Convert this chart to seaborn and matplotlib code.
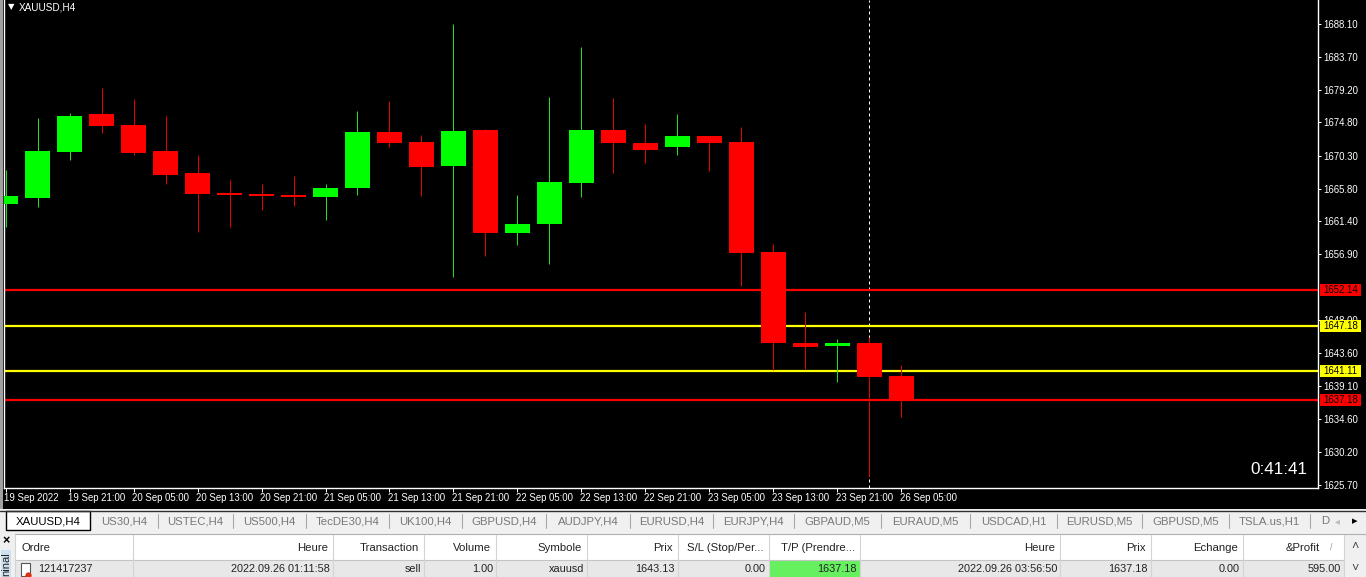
import numpy as np
import pandas as pd
import seaborn as sns
import matplotlib.pyplot as plt
from matplotlib.patches import Rectangle
from matplotlib.transforms import ScaledTranslation

# candle data
opens = [1663.74, 1664.55, 1670.78, 1675.92, 1674.43, 1670.91, 1667.93, 1665.23, 1665.09, 1664.95,
         1664.68, 1665.90, 1673.48, 1672.13, 1668.88, 1673.75, 1659.81, 1661.03, 1666.58, 1673.75,
         1671.99, 1671.45, 1672.94, 1672.13, 1657.24, 1644.92, 1644.52, 1644.92, 1640.45]
closes = [1664.82, 1670.91, 1675.65, 1674.29, 1670.64, 1667.66, 1665.09, 1664.95, 1664.82, 1664.68,
          1665.90, 1673.48, 1671.99, 1668.74, 1673.62, 1659.81, 1661.03, 1666.71, 1673.75, 1671.99,
          1671.05, 1672.94, 1671.99, 1657.10, 1644.92, 1644.38, 1644.92, 1640.32, 1637.21]
highs = [1668.34, 1675.38, 1676.05, 1679.44, 1677.95, 1675.65, 1670.37, 1666.99, 1666.44, 1667.53,
         1666.44, 1676.32, 1677.68, 1673.08, 1688.10, 1673.89, 1664.95, 1678.22, 1684.99, 1678.08,
         1674.57, 1675.92, 1672.94, 1674.16, 1658.32, 1649.12, 1645.46, 1645.73, 1641.94]
lows = [1660.62, 1663.33, 1669.69, 1673.35, 1670.37, 1666.44, 1659.95, 1660.62, 1662.92, 1663.47,
        1661.57, 1664.95, 1671.45, 1664.82, 1653.86, 1656.70, 1658.19, 1655.61, 1664.68, 1667.93,
        1669.29, 1670.37, 1668.20, 1652.64, 1641.27, 1641.40, 1639.64, 1626.78, 1634.90]

x_ticks = list(range(0, 29, 2))
x_labels = ['19 Sep 2022', '19 Sep 21:00', '20 Sep 05:00', '20 Sep 13:00', '20 Sep 21:00',
            '21 Sep 05:00', '21 Sep 13:00', '21 Sep 21:00', '22 Sep 05:00', '22 Sep 13:00',
            '22 Sep 21:00', '23 Sep 05:00', '23 Sep 13:00', '23 Sep 21:00', '26 Sep 05:00']
y_ticks = [1688.10, 1683.70, 1679.20, 1674.80, 1670.30, 1665.80, 1661.40, 1656.90,
           1648.00, 1643.60, 1639.10, 1634.60, 1630.20, 1625.70]

level_prices = [1652.14, 1647.18, 1641.11, 1637.18]
level_colors = ['#ff0000', '#ffff00', '#ffff00', '#ff0000']

tabs = ['XAUUSD,H4', 'US30,H4', 'USTEC,H4', 'US500,H4', 'TecDE30,H4', 'UK100,H4', 'GBPUSD,H4', 'AUDJPY,H4',
        'EURUSD,H4', 'EURJPY,H4', 'GBPAUD,M5', 'EURAUD,M5', 'USDCAD,H1', 'EURUSD,M5', 'GBPUSD,M5', 'TSLA.us,H1', 'D']
tab_edges = [6, 90, 158, 233, 306, 389, 462, 546, 630, 713, 794, 881, 970, 1057, 1142, 1229, 1310, 1341]

columns = ['Ordre', 'Heure', 'Transaction', 'Volume', 'Symbole', 'Prix', 'S/L (Stop/Per...', 'T/P (Prendre...',
           'Heure', 'Prix', 'Echange', '&Profit']
row = ['121417237', '2022.09.26 01:11:58', 'sell', '1.00', 'xauusd', '1643.13', '0.00', '1637.18',
       '2022.09.26 03:56:50', '1637.18', '0.00', '595.00']
col_edges = [15, 133, 333, 424, 496, 587, 678, 769, 860, 1060, 1151, 1243, 1344]

df = pd.DataFrame({'i': range(len(opens)), 'open': opens, 'close': closes, 'high': highs, 'low': lows})
df['bottom'] = df[['open', 'close']].min(axis=1)
df['body'] = (df['open'] - df['close']).abs()
df['up'] = df['close'] > df['open']

sns.set_theme(style='dark')
plt.rcParams['font.family'] = ['Liberation Sans', 'DejaVu Sans']

W, H = 1366, 577
fig = plt.figure(figsize=(W / 100, H / 100), dpi=100, facecolor='black')

# window chrome underneath, in pixel coordinates
bg = fig.add_axes([0, 0, 1, 1], zorder=0)
bg.set_xlim(0, W)
bg.set_ylim(H, 0)
bg.axis('off')
bg.add_patch(Rectangle((0, 0), 3, 509, color='#a0a0a0', lw=0))
bg.add_patch(Rectangle((0, 509), W, 68, color='#f0f0f0', lw=0))
bg.plot([0, W], [511, 511], color='#303030', lw=1)

# tabs
bg.add_patch(Rectangle((tab_edges[0], 511), tab_edges[1] - tab_edges[0], 19, fc='white', ec='black', lw=1))
for k, name in enumerate(tabs):
    mid = (tab_edges[k] + tab_edges[k + 1]) / 2
    bg.text(mid, 521, name, ha='center', va='center', fontsize=8.2, color='black' if k == 0 else '#777777')
    if k > 1:
        bg.plot([tab_edges[k]] * 2, [514, 528], color='#a8a8a8', lw=0.8)
bg.text(1337, 521, '\u25c2', ha='center', va='center', fontsize=7, color='#bbbbbb')
bg.text(1355, 521, '\u25b8', ha='center', va='center', fontsize=8, color='black')

# terminal table
bg.add_patch(Rectangle((15, 535), 1351, 25, color='white', lw=0))
bg.add_patch(Rectangle((15, 560), 1329, 17, color='#e8e8e8', lw=0))
bg.add_patch(Rectangle((1344, 535), 22, 42, color='#f0f0f0', lw=0))
bg.add_patch(Rectangle((col_edges[7], 560), col_edges[8] - col_edges[7], 17, color='#66f060', lw=0))
bg.plot([15, W], [534, 534], color='#b0b0b0', lw=0.8)
bg.plot([15, 1344], [560, 560], color='#c4c4c4', lw=0.8)
for xe in col_edges:
    bg.plot([xe, xe], [535, 577], color='#d4d4d4', lw=0.8)
for k, (c, v) in enumerate(zip(columns, row)):
    if k == 0:
        bg.text(22, 548, c, ha='left', va='center', fontsize=8.2, color='#222222')
        bg.text(38, 569.5, v, ha='left', va='center', fontsize=7.8, color='#222222')
    else:
        right = 1320 if c == '&Profit' else col_edges[k + 1] - 5
        bg.text(right, 548, c, ha='right', va='center', fontsize=8.2, color='#222222')
        bg.text(col_edges[k + 1] - 3, 569.5, v, ha='right', va='center', fontsize=7.8, color='#222222')
bg.text(1331, 548, '/', ha='center', va='center', fontsize=6.5, color='#999999')
bg.add_patch(Rectangle((21, 563), 9, 13, fc='white', ec='#555555', lw=0.8))
bg.plot([28], [574.5], marker='o', ms=4.5, color='#d83010', mew=0)
bg.add_patch(Rectangle((1, 550), 10, 27, color='#cfe0f0', lw=0))
bg.text(6, 541, '\u00d7', ha='center', va='center', fontsize=9, fontweight='bold', color='black')
bg.text(6.5, 576.5, 'ninal', ha='center', va='bottom', rotation=90, fontsize=8, color='#222222')
bg.text(1355, 547, '\u02c4', ha='center', va='center', fontsize=9, color='#444444')
bg.text(1355, 569, '\u02c5', ha='center', va='center', fontsize=9, color='#444444')

# price chart
ax = fig.add_axes([4 / W, 1 - 488 / H, (1318 - 4) / W, 488 / H], zorder=1, facecolor='black')

ax.axvline(27, color='white', lw=0.72, ls=(0, (3, 3)), zorder=1)
for price, col in zip(level_prices, level_colors):
    ax.axhline(price, color=col, lw=1.6, zorder=1.5)

for is_up, col, wick in [(True, '#00ff00', '#20e020'), (False, '#ff0000', '#e60000')]:
    sub = df[df['up'] == is_up]
    ax.vlines(sub['i'], sub['low'], sub['high'], color=wick, lw=0.72, zorder=2, snap=True)
    sns.barplot(data=sub, x='i', y='body', bottom=sub['bottom'].values, native_scale=True, color=col,
                saturation=1, width=0.78, linewidth=0, errorbar=None, ax=ax, zorder=3)

ax.set_xlim(-0.047, 41.016)
ax.set_ylim(1625.29, 1691.35)
ax.grid(False)
ax.set_xlabel('')
ax.set_ylabel('')
for side in ['left', 'right', 'bottom']:
    ax.spines[side].set_color('white')
    ax.spines[side].set_linewidth(1)
    ax.spines[side].set_visible(True)
ax.spines['top'].set_visible(False)

ax.set_xticks(x_ticks)
ax.set_xticklabels(x_labels, ha='left', fontsize=6.9, color='white')
ax.tick_params(axis='x', length=2.8, width=0.72, color='white', pad=1, bottom=True)
shift = ScaledTranslation(-1.5 / 100, 0, fig.dpi_scale_trans)
for lab in ax.get_xticklabels():
    lab.set_transform(lab.get_transform() + shift)
ax.yaxis.tick_right()
ax.set_yticks(y_ticks)
ax.set_yticklabels([f'{t:.2f}' for t in y_ticks], fontsize=6.9, color='white')
ax.tick_params(axis='y', length=2.5, width=0.72, color='white', pad=1.5, right=True, left=False)

# price tags on the right scale, 41x12 px boxes
tag_h = 12 * (1691.35 - 1625.29) / 488
for price, col in zip(level_prices, level_colors):
    ax.add_patch(Rectangle((1316 / 1314, price - tag_h / 2), 41 / 1314, tag_h, fc=col, ec='none', lw=0,
                           transform=ax.get_yaxis_transform(), clip_on=False, zorder=10))
    ax.annotate(f'{price:.2f}', xy=(1, price), xycoords=('axes fraction', 'data'), xytext=(3.8, 0),
                textcoords='offset points', ha='left', va='center', fontsize=6.9, color='black',
                annotation_clip=False, zorder=11)

ax.text(0.9916, 0.0385, '0:41:41', transform=ax.transAxes, ha='right', va='center', fontsize=12.3, color='white')
fig.text(19 / W, 1 - 7 / H, 'XAUUSD,H4', ha='left', va='center', fontsize=7.2, color='white', zorder=5)
fig.text(11 / W, 1 - 7 / H, '\u25bc', ha='center', va='center', fontsize=6, color='white', zorder=5,
         family='DejaVu Sans')

fig.savefig('out.png', dpi=100, facecolor=fig.get_facecolor())
